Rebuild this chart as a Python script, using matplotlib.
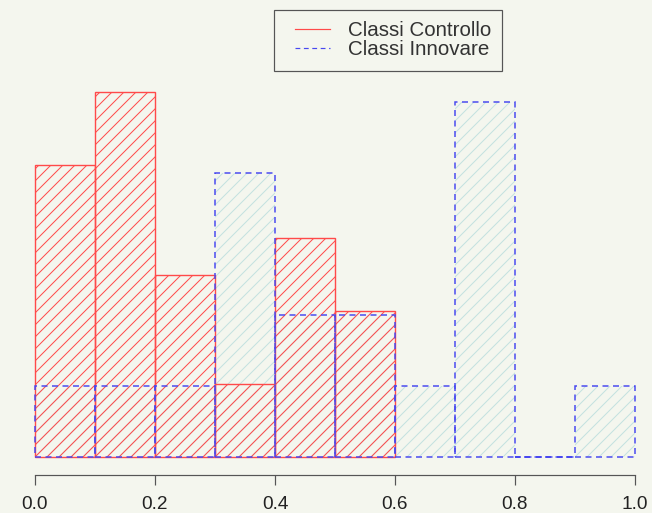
import numpy as np
import matplotlib
matplotlib.use("Agg")
import matplotlib.pyplot as plt
from matplotlib.lines import Line2D
from matplotlib.legend_handler import HandlerLine2D

# ---- data (histogram counts per bin of width 0.1) ----
bin_edges = [0.0, 0.1, 0.2, 0.3, 0.4, 0.5, 0.6, 0.7, 0.8, 0.9, 1.0]
controllo_counts = [8, 10, 5, 2, 6, 4, 0, 0, 0, 0]
innovare_counts = [1, 1, 1, 4, 2, 2, 1, 5, 0, 1]
legend_labels = ["Classi Controllo", "Classi Innovare"]
xticks = [0.0, 0.2, 0.4, 0.6, 0.8, 1.0]
xtick_labels = ["0.0", "0.2", "0.4", "0.6", "0.8", "1.0"]

BG = "#f4f6ee"
RED = "#ff4a4a"
BLUE = "#4848f0"
HATCH_BLUE = (0.70, 0.86, 0.86, 0.75)

plt.rcParams["font.family"] = ["Liberation Sans", "DejaVu Sans"]
plt.rcParams["hatch.linewidth"] = 1.0

W, H, DPI = 652, 513, 72
fig = plt.figure(figsize=(W / DPI, H / DPI), dpi=DPI, facecolor=BG)

px_per_unit = 127.75
base_px = 457
ax = fig.add_axes([35 / W, (H - base_px) / H, 600 / W, base_px / H])
ax.set_facecolor(BG)
ax.set_xlim(0, 1)
ax.set_ylim(0, base_px / px_per_unit)

edges = np.array(bin_edges)
lefts = edges[:-1]
widths = np.diff(edges)

def density(counts):
    c = np.array(counts, dtype=float)
    return c / (c.sum() * widths)

blue_h = density(innovare_counts)
red_h = density(controllo_counts)
red_mask = np.array(controllo_counts) > 0

ax.bar(lefts, blue_h, width=widths, align="edge", fill=False, hatch="//",
       edgecolor=HATCH_BLUE, linewidth=0, clip_on=False, zorder=1.5)
ax.bar(lefts[red_mask], red_h[red_mask], width=widths[red_mask], align="edge",
       fill=False, hatch="//", edgecolor=RED, linewidth=1.4, clip_on=False, zorder=2)
ax.bar(lefts, blue_h, width=widths, align="edge", fill=False,
       edgecolor=BLUE, linewidth=1.5, linestyle=(0, (4, 3)), clip_on=False, zorder=4)

for s in ["top", "right", "left"]:
    ax.spines[s].set_visible(False)
ax.spines["bottom"].set_position(("outward", 18))
ax.spines["bottom"].set_bounds(0, 1)
ax.spines["bottom"].set_color("#555555")
ax.spines["bottom"].set_linewidth(1.2)
ax.set_yticks([])
ax.set_xticks(xticks)
ax.set_xticklabels(xtick_labels)
ax.tick_params(axis="x", length=10, width=1.2, color="#555555", pad=11,
               labelsize=19, labelcolor="#222222")

handles = [Line2D([], [], color=RED, linewidth=1.2),
           Line2D([], [], color=BLUE, linewidth=1.2, linestyle=(0, (4, 3)))]
leg = fig.legend(handles, legend_labels, loc="upper left",
                 bbox_to_anchor=(274 / W, 1 - 10 / H), bbox_transform=fig.transFigure,
                 borderaxespad=0, fontsize=20.5, frameon=True, fancybox=False,
                 edgecolor="#555555", facecolor=BG, framealpha=1,
                 borderpad=0.55, labelspacing=0.0, handlelength=2.2,
                 handletextpad=0.85,
                 handler_map={Line2D: HandlerLine2D(xpad=0.45)})
leg.get_frame().set_linewidth(1.2)
for t in leg.get_texts():
    t.set_color("#333333")

fig.savefig("out.png", dpi=DPI, facecolor=BG)
